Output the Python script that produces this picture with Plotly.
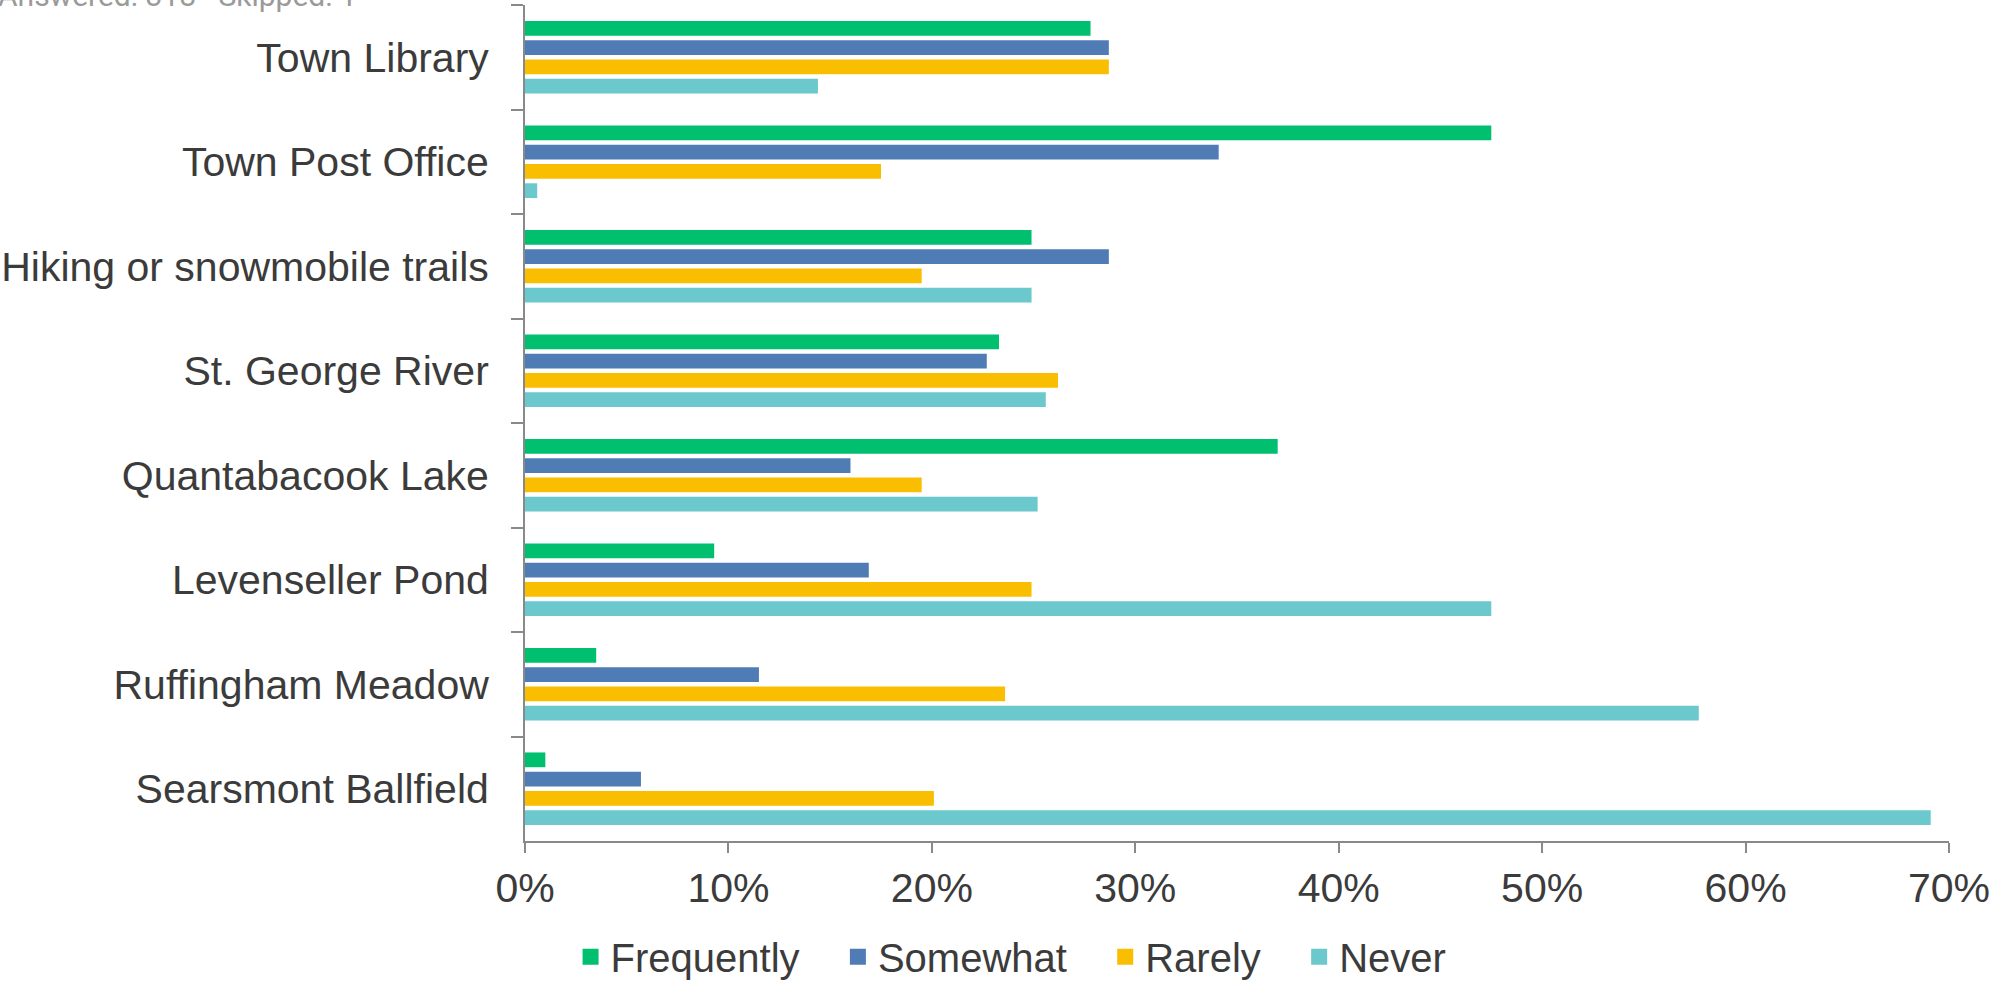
import plotly.graph_objects as go

places = ['Town Library', 'Town Post Office', 'Hiking or snowmobile trails', 'St. George River',
          'Quantabacook Lake', 'Levenseller Pond', 'Ruffingham Meadow', 'Searsmont Ballfield']

frequently = [27.8, 47.5, 24.9, 23.3, 37.0, 9.3, 3.5, 1.0]
somewhat = [28.7, 34.1, 28.7, 22.7, 16.0, 16.9, 11.5, 5.7]
rarely = [28.7, 17.5, 19.5, 26.2, 19.5, 24.9, 23.6, 20.1]
never = [14.4, 0.6, 24.9, 25.6, 25.2, 47.5, 57.7, 69.1]

series = [('Frequently', frequently, '#00bf6f'),
          ('Somewhat', somewhat, '#507cb6'),
          ('Rarely', rarely, '#f9be00'),
          ('Never', never, '#6bc8cd')]

tick_vals = [0, 10, 20, 30, 40, 50, 60, 70]
tick_text = ['0%', '10%', '20%', '30%', '40%', '50%', '60%', '70%']

font_family = 'Liberation Sans, Arial, sans-serif'
text_color = '#3b3b3b'
axis_color = '#898989'

fig = go.Figure()
for name, vals, color in series:
    fig.add_trace(go.Bar(
        y=places, x=vals, name=name, orientation='h',
        marker=dict(color=color, line=dict(width=0)),
        showlegend=False,
    ))
    # legend proxy so the legend swatch can be bigger than the bar default
    fig.add_trace(go.Scatter(
        x=[None], y=[None], mode='markers', name=name + '\u00a0\u00a0\u00a0',
        marker=dict(symbol='square', size=20, color=color),
    ))

# header text that sits mostly above the top edge of the picture
fig.add_annotation(
    text='Answered: 318\u00a0\u00a0\u00a0Skipped: 1', xref='paper', yref='paper',
    x=-0.3715, y=0.988, xanchor='left', yanchor='bottom', showarrow=False,
    font=dict(size=30, color='#9a9a9a', family='Roboto, Liberation Sans, sans-serif'),
)

fig.update_layout(
    width=1998, height=986,
    margin=dict(l=525, r=49, t=5, b=145, autoexpand=False),
    barmode='group', bargap=0.262, bargroupgap=0.234,
    plot_bgcolor='white', paper_bgcolor='white',
    font=dict(family=font_family, color=text_color, size=41),
    legend=dict(orientation='h', x=0.032, xanchor='left', y=-0.0995, yanchor='top',
                font=dict(size=40, color=text_color), itemsizing='trace',
                bgcolor='rgba(0,0,0,0)'),
    xaxis=dict(range=[0, 70], tickvals=tick_vals, ticktext=tick_text, showgrid=False,
               zeroline=False, showline=True, linecolor=axis_color, linewidth=2,
               ticks='outside', ticklen=10, tickwidth=2, tickcolor=axis_color,
               tickfont=dict(size=41), ticklabelstandoff=0, automargin=False),
    yaxis=dict(autorange='reversed', type='category', showgrid=False, zeroline=False,
               showline=True, linecolor=axis_color, linewidth=2,
               ticks='outside', ticklen=12, tickwidth=2, tickcolor=axis_color,
               tickson='boundaries', tickfont=dict(size=41), ticklabelstandoff=26,
               automargin=False),
)

# page body has a default 8px margin; drop it so the figure sits at the top-left corner
fig.write_html('out.html', config={'displayModeBar': False},
               post_script="document.body.style.margin='0';")
